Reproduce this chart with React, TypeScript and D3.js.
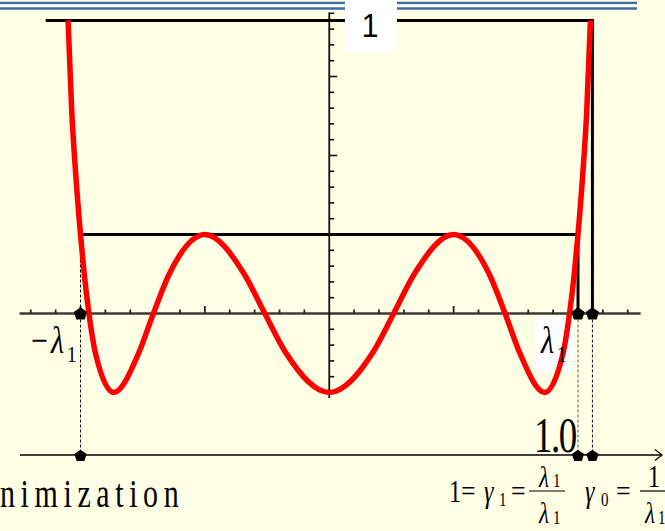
import React from "react";
import * as d3 from "d3";

const W = 665;
const H = 531;

// Residual polynomial p(t): sampled at its extrema, roots, half levels and the steep tails
const polyT = [
  -1.05, -1.035, -1.02, -1.0, -0.985, -0.966, -0.94, -0.866, -0.766, -0.707, -0.643, -0.5,
  -0.342, -0.259, -0.174, 0, 0.174, 0.259, 0.342, 0.5, 0.643, 0.707, 0.766, 0.866, 0.94,
  0.966, 0.985, 1.0, 1.02, 1.035, 1.05,
];
const polyV = [
  3.71, 2.55, 1.8, 1.0, 0.5, 0, -0.5, -1, -0.5, 0, 0.5, 1,
  0.5, 0, -0.5, -1, -0.5, 0, 0.5, 1, 0.5, 0, -0.5, -1, -0.5,
  0, 0.5, 1.0, 1.8, 2.55, 3.71,
];

// Marked abscissae: −λ1, λ1 and γ0
const lambdaT = [-1, 1];
const gamma0T = 1.058;
const unitLevel = 1;
const capLevel = 3.71;
const capStartT = -1.14;

const xTicks = d3.range(-12, 13).filter((k) => k !== 0).map((k) => k / 10);
const yTicks = d3.range(-5, 20).filter((k) => k !== 0).map((k) => k / 5);
const xAxisDomain = [-1.245, 1.252];
const yAxisDomain = [-1.07, 3.81];

const SERIF = "'Liberation Serif', 'Times New Roman', serif";
const SANS = "'Liberation Sans', Arial, sans-serif";

function Txt(props: {
  x: number;
  y: number;
  size: number;
  sy?: number;
  family?: string;
  italic?: boolean;
  anchor?: string;
  ls?: number;
  children: React.ReactNode;
}) {
  const { x, y, size, sy = 1.35, family = SERIF, italic, anchor = "start", ls = 0, children } = props;
  return (
    <text
      transform={`translate(${x},${y}) scale(1,${sy})`}
      fontSize={size}
      fontFamily={family}
      fontStyle={italic ? "italic" : "normal"}
      textAnchor={anchor}
      letterSpacing={ls}
      fill="#000"
    >
      {children}
    </text>
  );
}

function pentagon(cx: number, cy: number, r: number) {
  const pts: [number, number][] = d3.range(5).map((i) => {
    const a = -Math.PI / 2 + (i * 2 * Math.PI) / 5;
    return [cx + r * Math.cos(a), cy + r * Math.sin(a) * 0.95];
  });
  return d3.line()(pts.concat([pts[0]])) as string;
}

export default function App() {
  const x = d3.scaleLinear().domain([-1, 1]).range([80.5, 578]);
  const y = d3.scaleLinear().domain([0, 1]).range([313.5, 234.5]);
  const lineY = 455; // the lower number line

  const curve = d3
    .line<[number, number]>()
    .x((d) => x(d[0]))
    .y((d) => y(d[1]))
    .curve(d3.curveMonotoneX);
  const pts: [number, number][] = polyT.map((t, i) => [t, polyV[i]]);

  const y0 = y(0);
  const marks = [...lambdaT, gamma0T];

  return (
    <svg
      width={W}
      height={H}
      viewBox={`0 0 ${W} ${H}`}
      style={{ position: "absolute", left: 0, top: 0, display: "block" }}
    >
      <rect x={0} y={0} width={W} height={H} fill="#FFFFE6" />

      {/* double rule at the top */}
      <line x1={0} x2={637} y1={3} y2={3} stroke="#3F6D9F" strokeWidth={2.5} />
      <line x1={0} x2={637} y1={8.5} y2={8.5} stroke="#3F6D9F" strokeWidth={2.5} />
      <line x1={0} x2={637} y1={5.75} y2={5.75} stroke="#FFFFFF" strokeWidth={2.5} />

      {/* horizontal axis with ticks */}
      <line x1={x(xAxisDomain[0])} x2={x(xAxisDomain[1])} y1={y0} y2={y0} stroke="#3a3a3a" strokeWidth={2.5} />
      {xTicks.map((t) => {
        const major = Math.abs(t * 2 - Math.round(t * 2)) < 1e-6;
        return (
          <line key={`xt${t}`} x1={x(t)} x2={x(t)} y1={y0} y2={y0 - (major ? 7.5 : 4)} stroke="#222" strokeWidth={1.8} />
        );
      })}

      {/* vertical axis with ticks */}
      <line x1={x(0)} x2={x(0)} y1={y(yAxisDomain[1])} y2={y(yAxisDomain[0])} stroke="#111" strokeWidth={1.8} />
      {yTicks.map((v) => {
        const major = Math.abs(v - Math.round(v)) < 1e-6;
        return (
          <line key={`yt${v}`} x1={x(0)} x2={x(0) + (major ? 8 : 5)} y1={y(v)} y2={y(v)} stroke="#111" strokeWidth={1.6} />
        );
      })}

      {/* level lines */}
      <line x1={x(capStartT)} x2={x(gamma0T) + 1.5} y1={y(capLevel)} y2={y(capLevel)} stroke="#000" strokeWidth={3} />
      <line x1={x(gamma0T)} x2={x(gamma0T)} y1={y(capLevel)} y2={y0} stroke="#000" strokeWidth={3} />
      <line x1={x(-1)} x2={x(1) + 1.5} y1={y(unitLevel)} y2={y(unitLevel)} stroke="#000" strokeWidth={3} />
      <line x1={x(1)} x2={x(1)} y1={y(unitLevel)} y2={y0} stroke="#000" strokeWidth={3} />
      <line x1={x(-1)} x2={x(-1)} y1={y(unitLevel)} y2={y0} stroke="#000" strokeWidth={1} strokeDasharray="3,2" />

      {/* dashed drops to the lower number line */}
      {marks.map((t, i) => (
        <line key={`dr${i}`} x1={x(t)} x2={x(t)} y1={y0 + 6} y2={lineY - 4} stroke={i === 1 ? "#555" : "#111"} strokeWidth={1} strokeDasharray="3,2" />
      ))}

      {/* label boxes */}
      <rect x={345} y={0} width={52} height={52} fill="#FFFFFF" />
      <Txt x={370} y={37} size={30} sy={1.12} family={SANS} anchor="middle">1</Txt>

      <rect x={535} y={317} width={38} height={53} fill="#FFFFFF" />

      {/* polynomial */}
      <path d={curve(pts) as string} fill="none" stroke="#FF0000" strokeWidth={5.5} strokeLinejoin="round" />

      {/* markers on the axis */}
      {marks.map((t, i) => (
        <path key={`pa${i}`} d={pentagon(x(t), y0 + 0.5, 7)} fill="#000" />
      ))}

      {/* lower number line */}
      <line x1={20} x2={662} y1={lineY} y2={lineY} stroke="#000" strokeWidth={1.3} />
      <polyline points={`655,449.5 662,455 655,460.5`} fill="none" stroke="#000" strokeWidth={1.2} />
      {marks.map((t, i) => (
        <path key={`pb${i}`} d={pentagon(x(t), lineY + 1, 6.5)} fill="#000" />
      ))}

      {/* axis labels */}
      <Txt x={31} y={353} size={30} sy={1.25}>−</Txt>
      <Txt x={51} y={353} size={30} sy={1.25} italic>λ</Txt>
      <Txt x={67} y={362} size={19} sy={1.25}>1</Txt>

      <Txt x={541} y={353} size={30} sy={1.25} italic>λ</Txt>
      <Txt x={557} y={362} size={19} sy={1.25}>1</Txt>

      <Txt x={534} y={452} size={37} sy={1.38} ls={-1.5}>1.0</Txt>

      <Txt x={0} y={507} size={30} sy={1.3} ls={5.6}>nimization</Txt>

      {/* 1 = γ1 = λ1/λ1    γ0 = 1/λ1 */}
      <Txt x={449} y={502} size={24} sy={1.35}>1</Txt>
      <Txt x={461} y={501} size={26} sy={1.1}>=</Txt>
      <Txt x={484} y={502} size={24} sy={1.35} italic>γ</Txt>
      <Txt x={499} y={506} size={15} sy={1.3}>1</Txt>
      <Txt x={511} y={501} size={26} sy={1.1}>=</Txt>
      <line x1={529} x2={565} y1={491} y2={491} stroke="#000" strokeWidth={1.2} />
      <Txt x={539} y={487} size={23} sy={1.3} italic>λ</Txt>
      <Txt x={553} y={487} size={15} sy={1.3}>1</Txt>
      <Txt x={539} y={523} size={23} sy={1.3} italic>λ</Txt>
      <Txt x={553} y={524} size={15} sy={1.3}>1</Txt>

      <Txt x={585} y={502} size={24} sy={1.35} italic>γ</Txt>
      <Txt x={601} y={506} size={15} sy={1.3}>0</Txt>
      <Txt x={616} y={501} size={26} sy={1.1}>=</Txt>
      <line x1={640} x2={668} y1={491} y2={491} stroke="#000" strokeWidth={1.2} />
      <Txt x={648} y={487} size={24} sy={1.35}>1</Txt>
      <Txt x={645} y={523} size={23} sy={1.3} italic>λ</Txt>
      <Txt x={658} y={524} size={15} sy={1.3}>1</Txt>
    </svg>
  );
}
